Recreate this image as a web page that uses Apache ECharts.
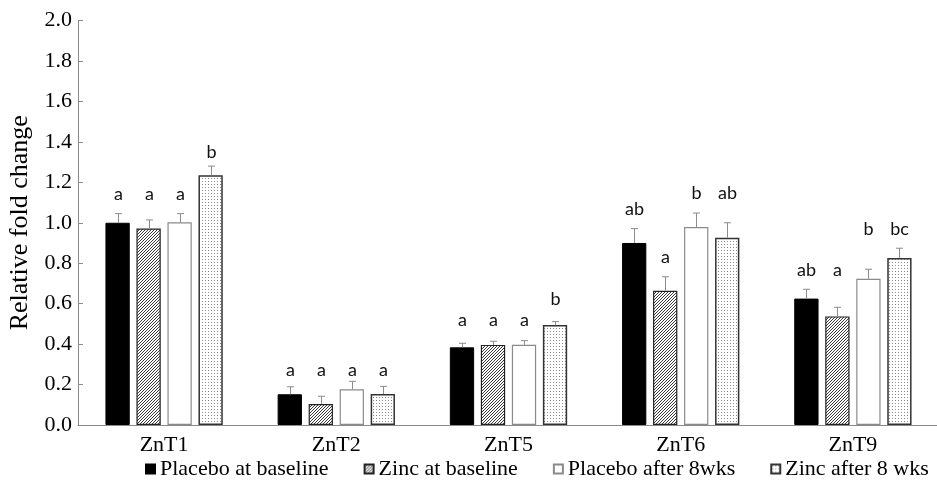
<!DOCTYPE html>
<html>
<head>
<meta charset="utf-8">
<script src="https://cdn.jsdelivr.net/npm/echarts@6/dist/echarts.min.js"></script>
<style>html,body{margin:0;padding:0;background:#fff}#c{width:937px;height:486px}</style>
</head>
<body>
<div id="c"></div>
<script>
var categories = ['ZnT1', 'ZnT2', 'ZnT5', 'ZnT6', 'ZnT9'];
var seriesNames = ['Placebo at baseline', 'Zinc at baseline', 'Placebo after 8wks', 'Zinc after 8 wks'];
var placeboBase = [1.00, 0.152, 0.384, 0.900, 0.625];
var zincBase = [0.971, 0.104, 0.396, 0.664, 0.537];
var placeboAfter = [1.002, 0.177, 0.397, 0.979, 0.723];
var zincAfter = [1.235, 0.153, 0.494, 0.926, 0.826];
var placeboBaseErr = [0.045, 0.037, 0.020, 0.071, 0.046];
var zincBaseErr = [0.043, 0.038, 0.018, 0.069, 0.045];
var placeboAfterErr = [0.043, 0.039, 0.020, 0.069, 0.047];
var zincAfterErr = [0.045, 0.038, 0.017, 0.074, 0.048];
var placeboBaseLetters = ['a', 'a', 'a', 'ab', 'ab'];
var zincBaseLetters = ['a', 'a', 'a', 'a', 'a'];
var placeboAfterLetters = ['a', 'a', 'a', 'b', 'b'];
var zincAfterLetters = ['b', 'a', 'b', 'ab', 'bc'];
var placeboBaseLetterY = [1.112, 0.242, 0.491, 1.038, 0.737];
var zincBaseLetterY = [1.112, 0.242, 0.491, 0.800, 0.737];
var placeboAfterLetterY = [1.112, 0.242, 0.491, 1.117, 0.939];
var zincAfterLetterY = [1.320, 0.242, 0.593, 1.117, 0.939];
var yTicks = ['0.0', '0.2', '0.4', '0.6', '0.8', '1.0', '1.2', '1.4', '1.6', '1.8', '2.0'];

var values = [placeboBase, zincBase, placeboAfter, zincAfter];
var errs = [placeboBaseErr, zincBaseErr, placeboAfterErr, zincAfterErr];
var letters = [placeboBaseLetters, zincBaseLetters, placeboAfterLetters, zincAfterLetters];
var letterYs = [placeboBaseLetterY, zincBaseLetterY, placeboAfterLetterY, zincAfterLetterY];

function hatchPattern() {
  var c = document.createElement('canvas');
  c.width = 3; c.height = 3;
  var g = c.getContext('2d');
  g.fillStyle = '#ffffff'; g.fillRect(0, 0, 3, 3);
  g.fillStyle = '#3a3a3a';
  for (var i = 0; i < 3; i++) {
    g.fillRect(i, 2 - i, 1, 1);
  }
  return c;
}
function dotPattern() {
  var c = document.createElement('canvas');
  c.width = 3; c.height = 3;
  var g = c.getContext('2d');
  g.fillStyle = '#ffffff'; g.fillRect(0, 0, 3, 3);
  g.fillStyle = '#8a8a8a';
  g.fillRect(1, 1, 1, 1);
  return c;
}

var BAR_W = 24.3, GAP = 6.7;
var styles = [
  { color: '#000000', borderColor: '#000000', borderWidth: 1 },
  { color: { image: hatchPattern(), repeat: 'repeat' }, borderColor: '#222222', borderWidth: 1.2 },
  { color: '#ffffff', borderColor: '#8a8a8a', borderWidth: 1.2 },
  { color: { image: dotPattern(), repeat: 'repeat' }, borderColor: '#333333', borderWidth: 1.5 }
];

var series = [];
for (var s = 0; s < 4; s++) {
  series.push({
    name: seriesNames[s],
    type: 'bar',
    data: values[s],
    barWidth: BAR_W,
    barGap: (GAP / BAR_W * 100).toFixed(1) + '%',
    itemStyle: styles[s],
    silent: true,
    animation: false
  });
}

var annData = [];
for (var s2 = 0; s2 < 4; s2++) {
  for (var k = 0; k < categories.length; k++) {
    annData.push([k, s2, values[s2][k], values[s2][k] + errs[s2][k], letterYs[s2][k], letters[s2][k]]);
  }
}

series.push({
  type: 'custom',
  data: annData,
  silent: true,
  animation: false,
  z: 5,
  encode: { x: 0, y: 3 },
  renderItem: function (params, api) {
    var cat = api.value(0), si = api.value(1);
    var off = (si - 1.5) * (BAR_W + GAP);
    var base = api.coord([cat, api.value(2)]);
    var top = api.coord([cat, api.value(3)]);
    var lt = api.coord([cat, api.value(4)]);
    var x = Math.round(base[0] + off) + 0.5;
    var item = annData[params.dataIndex];
    return {
      type: 'group',
      children: [
        { type: 'line', shape: { x1: x, y1: base[1], x2: x, y2: top[1] }, style: { stroke: '#8c8c8c', lineWidth: 1 } },
        { type: 'line', shape: { x1: x - 3.5, y1: top[1], x2: x + 3.5, y2: top[1] }, style: { stroke: '#8c8c8c', lineWidth: 1 } },
        { type: 'text', x: x, y: lt[1] - 6, style: { text: item[5], fill: '#111', font: '18px Lato', align: 'center', verticalAlign: 'middle' } }
      ]
    };
  }
});

var chart = echarts.init(document.getElementById('c'), null, { renderer: 'canvas' });
chart.setOption({
  animation: false,
  backgroundColor: '#ffffff',
  grid: { left: 78, top: 20.5, width: 861, bottom: 61, containLabel: false, outerBoundsMode: 'none' },
  legend: {
    data: seriesNames,
    left: 140,
    top: 453,
    itemWidth: 9,
    itemHeight: 9,
    itemGap: 35,
    icon: 'rect',
    textStyle: { fontFamily: 'Liberation Serif', fontSize: 22, color: '#000' },
    selectedMode: false
  },
  xAxis: {
    type: 'category',
    data: categories,
    axisLine: { lineStyle: { color: '#8a8a8a', width: 1 } },
    axisTick: { show: false },
    axisLabel: { fontFamily: 'Liberation Serif', fontSize: 22, color: '#000', margin: 9 }
  },
  yAxis: {
    type: 'value',
    min: 0, max: 2, interval: 0.2,
    name: 'Relative fold change',
    nameLocation: 'middle',
    nameGap: 43,
    nameTextStyle: { fontFamily: 'Liberation Serif', fontSize: 26, color: '#000' },
    axisLine: { show: true, lineStyle: { color: '#8a8a8a', width: 1 } },
    axisTick: { show: true, inside: true, length: 5, lineStyle: { color: '#8a8a8a' } },
    splitLine: { show: false },
    axisLabel: {
      fontFamily: 'Liberation Serif', fontSize: 22, color: '#000', margin: 6,
      formatter: function (v) { return yTicks[Math.round(v / 0.2)]; }
    }
  },
  series: series
});
</script>
</body>
</html>
